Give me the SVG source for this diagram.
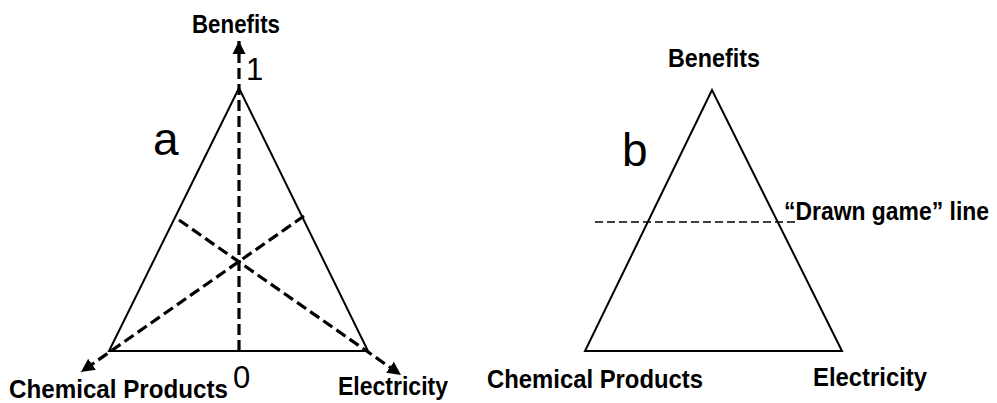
<svg xmlns="http://www.w3.org/2000/svg" width="997" height="403" viewBox="0 0 997 403">
<style>
.tri{fill:none;stroke:#000;stroke-width:2}
.dash{fill:none;stroke:#000;stroke-width:3.2;stroke-dasharray:11 5}
.thin{fill:none;stroke:#000;stroke-width:1.5;stroke-dasharray:8 4}
.lbl{font-family:"Liberation Sans",Arial,sans-serif;font-weight:bold;font-size:26px;fill:#000}
.num{font-family:"Liberation Sans",Arial,sans-serif;font-size:31px;fill:#000}
.big{font-family:"Liberation Sans",Arial,sans-serif;font-size:46px;fill:#000}
</style>
<defs>
<marker id="ah" viewBox="0 0 10 10" refX="10" refY="5" markerWidth="4.2" markerHeight="4.2" orient="auto" markerUnits="strokeWidth">
<path d="M0,0 L10,5 L0,10 z" fill="#000"/>
</marker>
</defs>
<g id="triangle-a">
<polygon class="tri" points="239,88 109,351 368,351"/>
</g>
<g id="connectors">
<line class="dash" x1="239" y1="351" x2="239" y2="41" marker-end="url(#ah)"/>
<line class="dash" x1="179" y1="220" x2="401" y2="375" marker-end="url(#ah)"/>
<line class="dash" x1="304" y1="216" x2="81" y2="372" marker-end="url(#ah)"/>
<line class="thin" x1="595" y1="222" x2="795" y2="222"/>
</g>
<g id="label-a-benefits"><text class="lbl" x="192" y="33" textLength="88" lengthAdjust="spacingAndGlyphs">Benefits</text></g>
<g id="label-a-chem"><text class="lbl" x="9" y="398" textLength="219" lengthAdjust="spacingAndGlyphs">Chemical Products</text></g>
<g id="label-a-elec"><text class="lbl" x="338" y="395" textLength="110" lengthAdjust="spacingAndGlyphs">Electricity</text></g>
<g id="label-1"><text class="num" x="246" y="80" font-size="28">1</text></g>
<g id="label-0"><text class="num" x="233" y="388">0</text></g>
<g id="label-a"><text class="big" x="153" y="155">a</text></g>
<g id="triangle-b">
<polygon class="tri" points="712,90 585,351 842,351"/>
</g>
<g id="label-b"><text class="big" x="622" y="166">b</text></g>
<g id="label-b-benefits"><text class="lbl" x="668" y="67" textLength="92" lengthAdjust="spacingAndGlyphs">Benefits</text></g>
<g id="label-b-chem"><text class="lbl" x="487" y="388" textLength="216" lengthAdjust="spacingAndGlyphs">Chemical Products</text></g>
<g id="label-b-elec"><text class="lbl" x="813" y="386" textLength="114" lengthAdjust="spacingAndGlyphs">Electricity</text></g>
<g id="label-drawn"><text class="lbl" x="784" y="220" textLength="205" lengthAdjust="spacingAndGlyphs">“Drawn game” line</text></g>
</svg>
